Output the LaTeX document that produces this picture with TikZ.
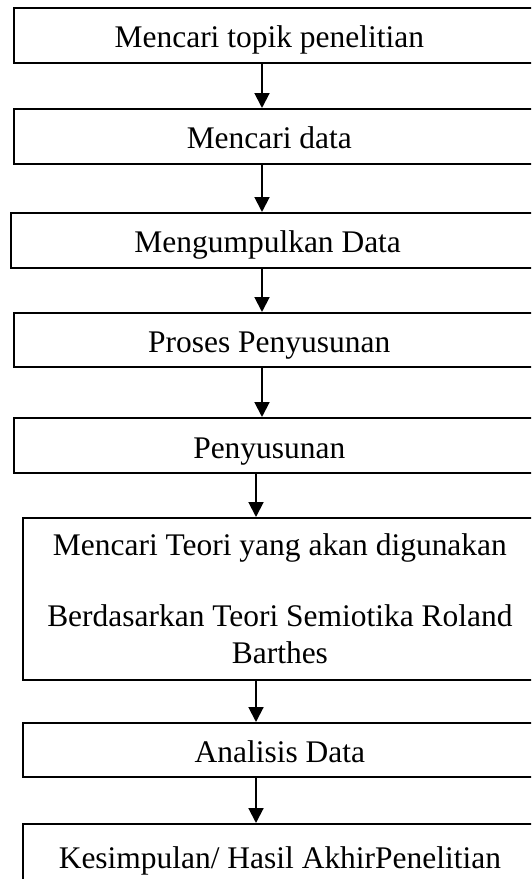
\documentclass[tikz,border=0pt]{standalone}
\usepackage{fontspec}
\setmainfont{Liberation Serif}
\usetikzlibrary{arrows.meta,positioning}
\newcommand\boxfont{\fontsize{11.8}{13.9}\selectfont}
\tikzset{
  >=Triangle,
  box/.style={draw=black,line width=.75pt,anchor=north west,minimum height=20.6pt,inner sep=2pt,font=\boxfont},
  single/.style={box,text height=9.4pt,text depth=0pt},
  leftish/.style={execute at begin node={\hspace*{-4.5pt}}},
  flow/.style={-{Triangle[width=5.6pt,length=5.6pt]},line width=.75pt,draw=black}
}
\begin{document}
\begin{tikzpicture}[x=.375pt,y=-.375pt]
        \clip (0,0) rectangle (531,879);
        \coordinate (ax1) at (262,0);
        \coordinate (ax2) at (256,0);

        \node[single,leftish,minimum width=196.2pt] (b1) at (12.7,7) {Mencari topik penelitian};
        \node[single,leftish,minimum width=196.2pt] (b2) at (12.7,108) {Mencari data};
        \node[single,leftish,minimum width=197.4pt] (b3) at (9.5,212) {Mengumpulkan Data};
        \node[single,leftish,minimum width=196.2pt,minimum height=20.25pt] (b4) at (12.7,312) {Proses Penyusunan};
        \node[single,leftish,minimum width=196.2pt] (b5) at (12.7,417) {Penyusunan};
        \node[box,minimum width=192.9pt,minimum height=60.75pt,align=center] (b6) at (21.7,517)
          {Mencari Teori yang akan digunakan\\[12.7pt]Berdasarkan Teori Semiotika Roland\\Barthes};
        \node[single,minimum width=192.9pt,minimum height=20.25pt] (b7) at (21.7,722) {Analisis Data};
        \node[single,minimum width=192.9pt,minimum height=24pt] (b8) at (21.7,823) {Kesimpulan/ Hasil AkhirPenelitian};

        \draw[flow] (b1.south -| ax1)--(b2.north -| ax1);
        \draw[flow] (b2.south -| ax1)--(b3.north -| ax1);
        \draw[flow] (b3.south -| ax1)--(b4.north -| ax1);
        \draw[flow] (b4.south -| ax1)--(b5.north -| ax1);
        \draw[flow] (b5.south -| ax2)--(b6.north -| ax2);
        \draw[flow] (b6.south -| ax2)--(b7.north -| ax2);
        \draw[flow] (b7.south -| ax2)--(b8.north -| ax2);
      \end{tikzpicture}
\end{document}
